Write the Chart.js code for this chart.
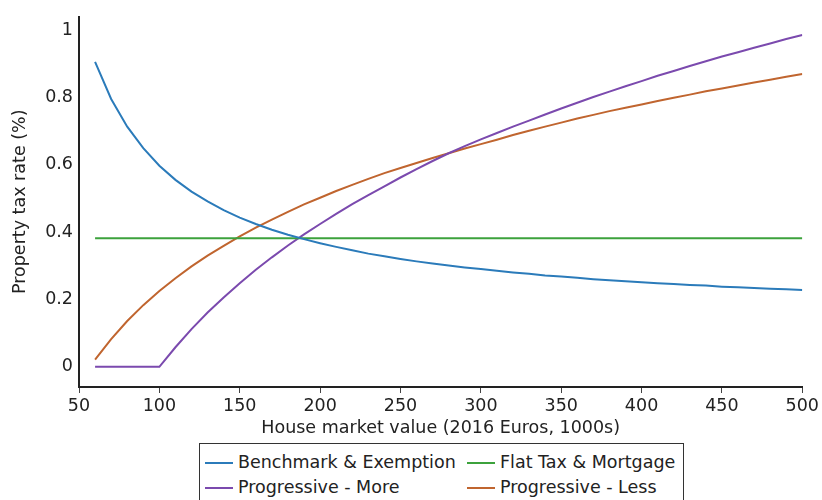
<!DOCTYPE html>
<html><head><meta charset="utf-8">
<script src="https://cdn.jsdelivr.net/npm/chart.js"></script>
<style>
html,body{margin:0;padding:0;background:#fff;}
#wrap{position:relative;width:822px;height:500px;overflow:hidden;}
#legend{position:absolute;left:199px;top:443px;width:485px;height:70px;border:1px solid #333;box-sizing:border-box;font-family:"DejaVu Sans";font-size:17.5px;color:#222;background:#fff;}
.item{position:absolute;height:25px;line-height:25px;white-space:nowrap;}
.item .sw{position:absolute;left:0;top:12px;width:28px;height:2px;}
.item .tx{position:absolute;left:33px;top:0;}
</style></head>
<body><div id="wrap"><canvas id="c" width="822" height="500"></canvas><div id="legend"></div></div>
<script>
const xValues = [60,70,80,90,100,110,120,130,140,150,160,170,180,190,200,210,220,230,240,250,260,270,280,290,300,310,320,330,340,350,360,370,380,390,400,410,420,430,440,450,460,470,480,490,500];
const benchmark = [0.905,0.795,0.713,0.649,0.597,0.555,0.520,0.491,0.465,0.443,0.424,0.407,0.392,0.379,0.367,0.356,0.346,0.336,0.328,0.320,0.313,0.307,0.301,0.295,0.290,0.285,0.280,0.276,0.271,0.268,0.264,0.260,0.257,0.254,0.251,0.248,0.246,0.243,0.241,0.238,0.236,0.234,0.232,0.230,0.228];
const progMore = [0,0,0,0,0,0.058,0.112,0.161,0.206,0.248,0.288,0.325,0.360,0.393,0.424,0.454,0.483,0.510,0.536,0.562,0.587,0.611,0.634,0.655,0.675,0.694,0.713,0.731,0.749,0.767,0.784,0.801,0.817,0.833,0.848,0.864,0.878,0.893,0.907,0.921,0.934,0.947,0.960,0.973,0.985];
const progLess = [0.021,0.082,0.136,0.183,0.225,0.263,0.298,0.330,0.359,0.387,0.413,0.437,0.460,0.482,0.502,0.522,0.540,0.558,0.575,0.590,0.605,0.620,0.634,0.648,0.661,0.674,0.688,0.701,0.713,0.725,0.737,0.748,0.759,0.769,0.779,0.789,0.799,0.808,0.818,0.826,0.835,0.844,0.852,0.861,0.869];
const flatX = [60,500];
const flatY = [0.382,0.382];
const xTicks = [50,100,150,200,250,300,350,400,450,500];
const yTicks = [0,0.2,0.4,0.6,0.8,1];
const seriesNames = ["Benchmark & Exemption","Flat Tax & Mortgage","Progressive - More","Progressive - Less"];
const colors = ["#2b7bba","#3ca23c","#7b4aae","#c0652f"];
const xTitle = "House market value (2016 Euros, 1000s)";
const yTitle = "Property tax rate (%)";

const FONT = "DejaVu Sans";
const mk = (xs, ys) => xs.map((x,i)=>({x:x, y:ys[i]}));
const ds = (i, data) => ({label:seriesNames[i], data:data, borderColor:colors[i], backgroundColor:colors[i], borderWidth:2, pointRadius:0, tension:0, fill:false});

new Chart(document.getElementById('c'), {
  type:'line',
  data:{datasets:[
    ds(0, mk(xValues, benchmark)),
    ds(1, mk(flatX, flatY)),
    ds(2, mk(xValues, progMore)),
    ds(3, mk(xValues, progLess))
  ]},
  options:{
    responsive:false, animation:false,
    layout:{padding:{left:0,right:19,top:13,bottom:63}},
    plugins:{legend:{display:false}, tooltip:{enabled:false}},
    scales:{
      x:{type:'linear', min:50, max:500,
        afterBuildTicks:s=>{s.ticks = xTicks.map(v=>({value:v}));},
        afterFit:s=>{s.height=50;},
        grid:{drawOnChartArea:false, drawTicks:true, tickLength:6, color:'#444', lineWidth:1},
        border:{display:true, color:'#222', width:2},
        ticks:{font:{family:FONT, size:17.5}, color:'#222', padding:3, maxRotation:0, autoSkip:false, callback:v=>String(v)},
        title:{display:true, text:xTitle, font:{family:FONT, size:17.5, lineHeight:1}, color:'#222', padding:{top:0,bottom:0}}
      },
      y:{type:'linear', min:-0.06, max:1.04,
        afterBuildTicks:s=>{s.ticks = yTicks.map(v=>({value:v}));},
        afterFit:s=>{s.width=79;},
        grid:{drawOnChartArea:false, drawTicks:false},
        border:{display:true, color:'#222', width:2},
        ticks:{font:{family:FONT, size:17.5}, color:'#222', padding:6, callback:v=>String(v)},
        title:{display:true, text:yTitle, font:{family:FONT, size:17.5, lineHeight:1.2}, color:'#222', padding:{top:10,bottom:0}}
      }
    }
  }
});

const leg = document.getElementById('legend');
const pos = [[5,5.5],[267,5.5],[5,30.5],[267,30.5]];
const order = [0,1,2,3];
order.forEach((i,k)=>{
  const d = document.createElement('div');
  d.className='item';
  d.style.left=pos[k][0]+'px'; d.style.top=pos[k][1]+'px';
  const sw=document.createElement('span'); sw.className='sw'; sw.style.background=colors[i];
  const tx=document.createElement('span'); tx.className='tx'; tx.textContent=seriesNames[i];
  d.appendChild(sw); d.appendChild(tx); leg.appendChild(d);
});
</script>
</body></html>
